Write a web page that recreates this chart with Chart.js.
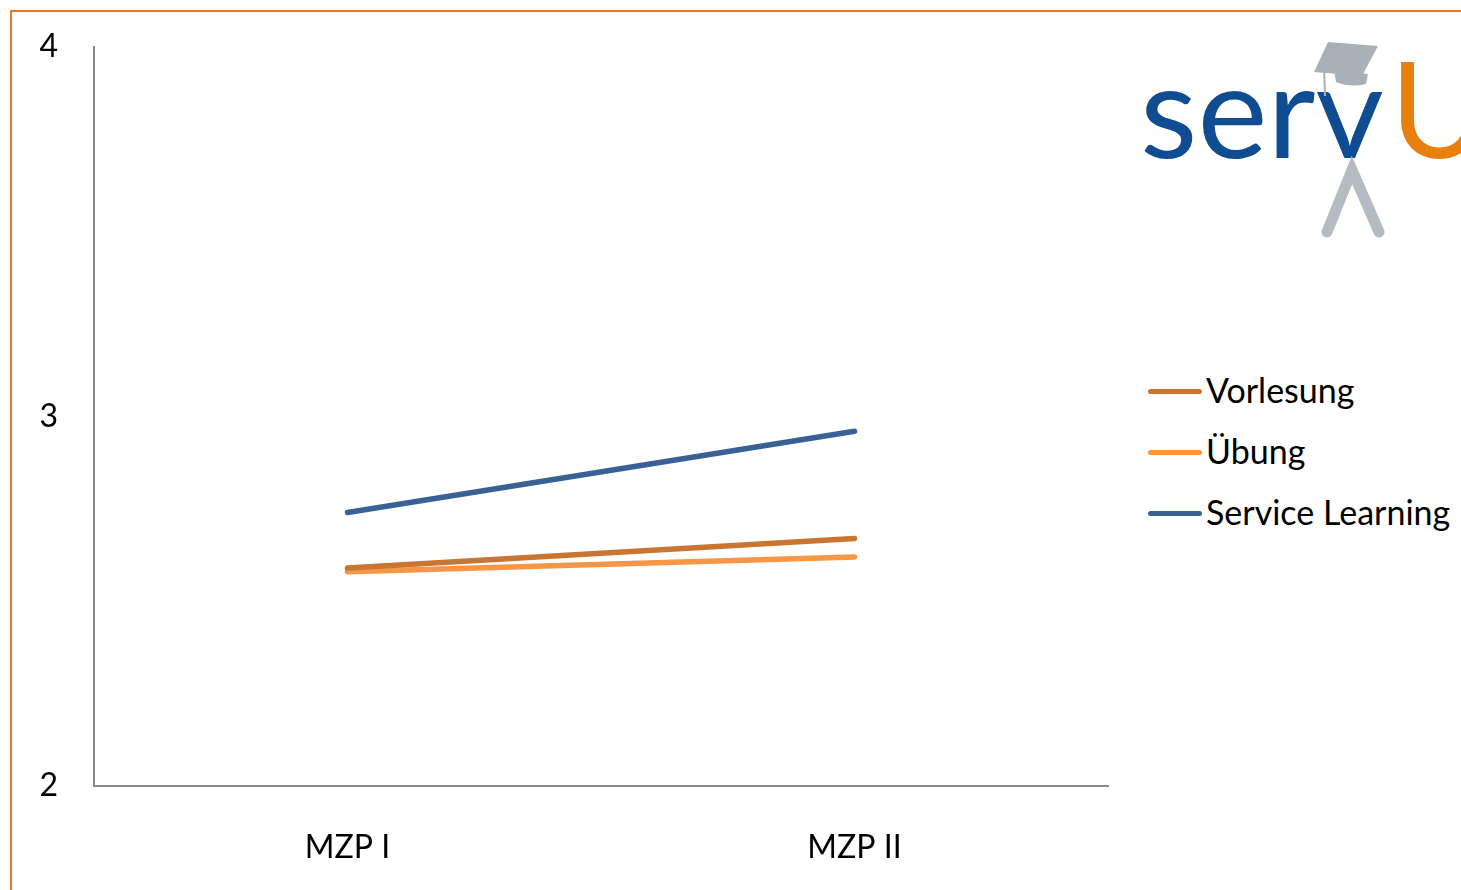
<!DOCTYPE html>
<html lang="de">
<head>
  <meta charset="UTF-8" />
  <title>servU MZP</title>
  <style>
    html, body { margin: 0; padding: 0; background: #fff; }
    body { width: 1461px; height: 890px; position: relative; overflow: hidden; font-family: Lato, "Open Sans", sans-serif; }
    .frame {
      position: absolute; left: 10px; top: 10px; width: 1500px; height: 900px;
      border-top: 2px solid #E97A24; border-left: 2px solid #E97A24;
    }
    .chart-box { position: absolute; left: 0; top: 0; width: 1120px; height: 890px; }
    .logo { position: absolute; left: 1130px; top: 30px; }
    .legend { position: absolute; left: 1148px; top: 367px; margin: 0; padding: 0; list-style: none; }
    .legend li { height: 61px; display: flex; align-items: flex-start; font-size: 34px; color: #000; line-height: 46px; }
    .legend .swatch { width: 54px; height: 5px; border-radius: 3px; margin-top: 22px; margin-right: 4px; }
  </style>
</head>
<body>
  <div class="frame"></div>
  <div class="chart-box"><canvas id="mzpChart"></canvas></div>

  <!-- servU logo -->
  <svg class="logo" width="331" height="220" viewBox="0 0 331 220">
    <text x="10" y="128" font-family="Lato, 'Open Sans', sans-serif" font-size="130" fill="#0F4C92" textLength="244" lengthAdjust="spacingAndGlyphs">serv</text>
    <text x="260" y="128" font-family="Lato, 'Open Sans', sans-serif" font-size="134" fill="#E8800E">U</text>
    <polygon points="198,12 248,16 232,46 184,42" fill="#A9B0B8" />
    <path d="M204,40 L238,44 L236,54 Q220,58 206,52 Z" fill="#A9B0B8" />
    <line x1="194" y1="36" x2="195" y2="66" stroke="#A9B0B8" stroke-width="2" />
    <polyline points="197,202 222,140 249,202" fill="none" stroke="#B4BBC2" stroke-width="11" stroke-linecap="round" stroke-linejoin="miter" />
  </svg>

  <ul class="legend" id="legend"></ul>

  <script src="https://cdn.jsdelivr.net/npm/chart.js"></script>
  <script>
    // data
    const categories = ['MZP I', 'MZP II'];
    const vorlesung = [2.59, 2.67];
    const uebung = [2.58, 2.62];
    const serviceLearning = [2.74, 2.96];
    const yTicks = [2, 3, 4];

    const seriesNames = ['Vorlesung', 'Übung', 'Service Learning'];
    const seriesColors = ['#C97632', '#F79646', '#3A6196'];
    const seriesValues = [vorlesung, uebung, serviceLearning];

    const datasets = seriesNames.map((name, i) => ({
      label: name,
      data: seriesValues[i],
      borderColor: seriesColors[i],
      backgroundColor: seriesColors[i],
      borderWidth: 5.5,
      borderCapStyle: 'round',
      pointRadius: 0,
      pointHoverRadius: 0,
      tension: 0,
      fill: false
    }));

    const tickFont = { family: 'Lato, "Open Sans", sans-serif', size: 32 };

    new Chart(document.getElementById('mzpChart').getContext('2d'), {
      type: 'line',
      data: { labels: categories, datasets: datasets },
      options: {
        responsive: true,
        maintainAspectRatio: false,
        animation: false,
        layout: { padding: { top: 47, right: 12, left: 0, bottom: 0 } },
        plugins: {
          legend: { display: false },
          tooltip: { enabled: false }
        },
        scales: {
          x: {
            offset: true,
            grid: { display: false, drawTicks: false },
            border: { display: true, color: '#888888', width: 2 },
            ticks: { color: '#000', font: tickFont, padding: 42 },
            afterFit: (scale) => { scale.height = 104; }
          },
          y: {
            min: 2,
            max: 4,
            afterBuildTicks: (scale) => { scale.ticks = yTicks.map(v => ({ value: v })); },
            grid: { display: false, drawTicks: false },
            border: { display: true, color: '#888888', width: 2 },
            ticks: { color: '#000', font: tickFont, padding: 36 },
            afterFit: (scale) => {
              scale.width = 94;
              scale.paddingTop = 0;
              scale.paddingBottom = 0;
            }
          }
        }
      }
    });

    // legend
    const legendEl = document.getElementById('legend');
    seriesNames.forEach((name, i) => {
      const li = document.createElement('li');
      const sw = document.createElement('span');
      sw.className = 'swatch';
      sw.style.background = seriesColors[i];
      li.appendChild(sw);
      li.appendChild(document.createTextNode(name));
      legendEl.appendChild(li);
    });
  </script>
</body>
</html>
